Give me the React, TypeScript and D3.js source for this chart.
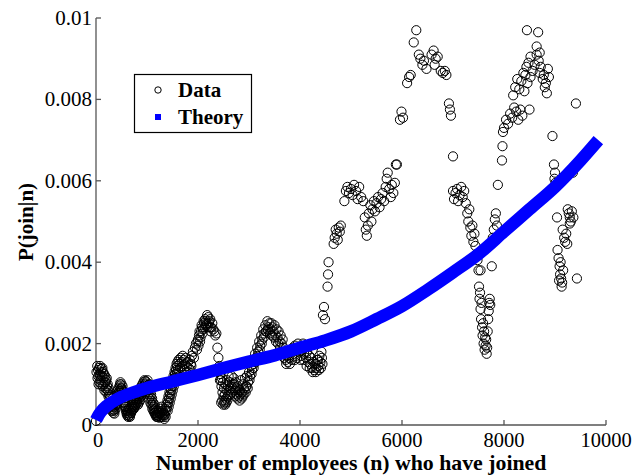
import React from "react";
import * as d3 from "d3";

// ---- data (p values in units of 1e-3) ----
const xTicks = [0, 2000, 4000, 6000, 8000, 10000];
const yTicks = [0, 0.002, 0.004, 0.006, 0.008, 0.01];
const yTickLabels = ["0", "0.002", "0.004", "0.006", "0.008", "0.01"];
const xTickLabels = ["0", "2000", "4000", "6000", "8000", "10000"];

const dataN = [
  0, 30, 40, 50, 60, 70, 80, 90, 100, 110, 120, 130, 140, 150, 160, 170, 180, 190, 200, 210, 220, 230, 240, 250, 260, 270, 280, 290, 300, 310, 320, 330, 340, 350, 360, 370, 380, 390, 400, 410, 420, 430, 440, 450, 460, 470, 480, 490, 500, 510, 520, 530, 540, 550, 560, 570, 580, 590, 600, 610, 620, 630, 640, 650, 660, 670, 680, 690, 700, 710, 720, 730, 740, 750, 760, 770, 780, 790, 800, 810, 820, 830, 840, 850, 860, 870, 880, 890, 900, 910, 920, 930, 940, 950, 960, 970, 980, 990, 1000, 1010, 1020, 1030, 1040, 1050, 1060, 1070, 1080, 1090, 1100, 1110, 1120, 1130, 1140, 1150, 1160, 1170, 1180, 1190, 1200, 1210, 1220, 1230, 1240, 1250, 1260, 1270, 1280, 1290, 1300, 1310, 1320, 1330, 1340, 1350, 1360, 1370, 1380, 1390, 1400, 1410, 1420, 1430, 1440, 1450, 1460, 1470, 1480, 1490, 1500, 1510, 1520, 1530, 1540, 1550, 1560, 1570, 1580, 1590, 1600, 1620, 1640, 1660, 1680, 1700, 1720, 1740, 1760, 1780, 1800, 1820, 1840, 1860, 1880,
  1900, 1920, 1940, 1960, 1980, 2000, 2020, 2040, 2060, 2080, 2100, 2120, 2140, 2160, 2180, 2200, 2220, 2240, 2260, 2280, 2300, 2320, 2340, 2360, 2380, 2400, 2420, 2440, 2450, 2460, 2470, 2480, 2490, 2500, 2510, 2520, 2530, 2540, 2550, 2560, 2570, 2580, 2590, 2600, 2620, 2640, 2660, 2680, 2700, 2720, 2740, 2760, 2780, 2800, 2820, 2840, 2860, 2880, 2900, 2920, 2940, 2960, 2980, 3000, 3020, 3040, 3060, 3080, 3100, 3120, 3140, 3160, 3180, 3200, 3220, 3240, 3260, 3280, 3300, 3320, 3340, 3360, 3380, 3400, 3420, 3440, 3460, 3480, 3500, 3520, 3540, 3560, 3580, 3600, 3620, 3640, 3660, 3680, 3700, 3720, 3740, 3760, 3780, 3800, 3820, 3840, 3860, 3880, 3900, 3920, 3940, 3960, 3980, 4000, 4020, 4040, 4060, 4080, 4100, 4120, 4140, 4160, 4180, 4200, 4220, 4240, 4260, 4280, 4300, 4320, 4340, 4360, 4380, 4400, 4420, 4440,
  4450, 4470, 4490, 4540, 4550, 4560, 4660, 4680, 4700, 4720, 4740, 4760, 4780, 4800, 4870, 4900, 4930, 4960, 5000, 5030, 5060, 5100, 5130, 5160, 5200, 5240, 5270, 5290, 5310, 5330, 5350, 5380, 5400, 5420, 5450, 5470, 5500, 5530, 5560, 5590, 5620, 5650, 5680, 5700, 5720, 5750, 5780, 5800, 5830, 5860, 5880,
  5900, 5960, 5990, 6020, 6100, 6140, 6170, 6230, 6280, 6330, 6360, 6400, 6430, 6480, 6580, 6620, 6660, 6700, 6640, 6760, 6800, 6840, 6870, 6920, 6940, 6960, 7000,
  7000, 7020, 7050, 7080, 7100, 7130, 7160, 7190, 7220, 7250, 7280, 7300, 7320, 7340, 7360, 7380, 7400, 7420, 7440, 7460, 7480, 7500, 7510, 7520, 7530, 7540, 7550, 7560, 7570, 7580, 7590, 7600, 7610, 7620, 7630, 7640, 7650, 7660, 7670, 7680, 7690, 7700, 7710, 7720, 7730, 7760, 7540, 7780, 7800, 7820, 7840, 7860, 7880,
  7960, 7970, 7980, 8000, 8040, 8080, 8120, 8160, 8200, 8240, 8280, 8320, 8360, 8180, 8220, 8260, 8300, 8340, 8380, 8420, 8460, 8500, 8520, 8400, 8440, 8480, 8520, 8560, 8600, 8640, 8680, 8700, 8720, 8760, 8780, 8800, 8820, 8840, 8450, 8670, 8640, 8700, 8860, 8880,
  8950, 8980, 9000, 9010, 8990, 9040, 9350, 9410, 9250, 9270, 9290, 9310, 9330, 9360, 9290, 9150, 9180, 9200, 9220, 9240, 9050, 9070, 9090, 9100, 9120, 9140, 9110, 9160, 9130, 9080, 9430,
  10, 25, 45, 65, 85, 105, 125, 145, 165, 185, 205, 225, 245, 265, 285, 305, 325, 345, 365, 385, 405, 425, 445, 465, 485, 505, 525, 545, 565, 585, 605, 625, 645, 665, 685, 705, 725, 745, 765, 785, 805, 825, 845, 865, 885, 905, 925, 945, 965, 985, 1005, 1025, 1045, 1065, 1085, 1105, 1125, 1145, 1165, 1185, 1205, 1245, 1285, 1325, 1365, 1405, 1425, 1445, 1465, 1485, 1505, 1525, 1545, 1565, 1585, 1610, 1650, 1690, 1730, 1770, 1810, 1850, 1870,
  1990, 2010, 2030, 2050, 2070, 2090, 2110, 2130, 2150, 2170, 2190, 2210, 2230, 2250,
  2430, 2455, 2475, 2495, 2515, 2535, 2555, 2575, 2595, 2615, 2635, 2655, 2675, 2695, 2715, 2735, 2755, 2775, 2795, 2815, 2835, 2855, 2875, 2895, 2915, 2935, 2955, 2975, 3010, 3050, 3090, 3130, 3170, 3210, 3250, 3290, 3330, 3370, 3410, 3450, 3490, 3530, 3570, 3610, 3650, 3690, 3730, 3900, 3950, 4010, 4070, 4130, 4190, 4250, 4310, 4370, 4410, 4430, 4350,
];

const dataP = [
  0.1, 1.15, 1.35, 1.0, 1.4, 1.25, 1.45, 1.1, 1.3, 1.38, 1.2, 0.95, 1.3, 1.15, 1.25, 1.05, 1.2, 0.9, 1.1, 1.15, 0.95, 1.0, 0.85, 0.9, 0.75, 0.65, 0.7, 0.55, 0.5, 0.45, 0.4, 0.35, 0.3, 0.38, 0.28, 0.45, 0.55, 0.5, 0.65, 0.75, 0.7, 0.85, 0.9, 0.8, 0.95, 1.0, 1.05, 0.9, 1.0, 0.85, 0.95, 0.75, 0.8, 0.65, 0.55, 0.6, 0.45, 0.4, 0.3, 0.35, 0.25, 0.2, 0.3, 0.22, 0.35, 0.25, 0.4, 0.3, 0.5, 0.45, 0.55, 0.4, 0.6, 0.5, 0.65, 0.55, 0.7, 0.6, 0.75, 0.65, 0.8, 0.7, 0.55, 0.85, 0.75, 0.9, 0.8, 0.95, 0.85, 1.0, 0.9, 1.05, 0.95, 1.1, 1.0, 1.08, 0.9, 1.05, 0.95, 1.1, 0.98, 0.85, 1.0, 0.8, 0.9, 0.7, 0.75, 0.6, 0.65, 0.5, 0.55, 0.45, 0.38, 0.5, 0.3, 0.4, 0.25, 0.35, 0.2, 0.3, 0.22, 0.35, 0.18, 0.28, 0.2, 0.4, 0.3, 0.45, 0.25, 0.35, 0.2, 0.3, 0.15, 0.25, 0.4, 0.35, 0.5, 0.45, 0.6, 0.55, 0.7, 0.65, 0.8, 0.75, 0.9, 0.85, 1.0, 0.95, 1.1, 1.05, 1.2, 1.15, 1.3, 1.25, 1.4, 1.35, 1.5, 1.45, 1.55, 1.6, 1.5, 1.65, 1.55, 1.7, 1.6, 1.5, 1.65, 1.45, 1.55, 1.4, 1.6, 1.5, 1.7,
  1.8, 1.65, 1.9, 2.0, 1.85, 2.1, 2.2, 2.05, 2.3, 2.4, 2.35, 2.5, 2.6, 2.45, 2.7, 2.65, 2.55, 2.6, 2.4, 2.5, 2.35, 2.3, 2.2, 2.25, 1.9, 1.65, 1.45, 1.25, 1.1, 0.95, 1.15, 0.8, 1.05, 0.7, 0.9, 0.6, 0.75, 1.0, 0.65, 0.85, 1.1, 0.7, 0.95, 1.2, 1.05, 0.9, 1.2, 1.0, 1.15, 0.85, 1.05, 0.75, 0.95, 0.7, 0.85, 1.1, 0.8, 1.0, 0.9, 1.15, 0.95, 1.2, 1.05, 1.3, 1.2, 1.45, 1.35, 1.6, 1.5, 1.75, 1.65, 1.9, 1.8, 2.05, 1.95, 2.2, 2.1, 2.35, 2.25, 2.45, 2.3, 2.55, 2.4, 2.5, 2.35, 2.5, 2.4, 2.3, 2.45, 2.2, 2.35, 2.15, 2.3, 2.05, 2.2, 2.0, 2.1, 1.9, 1.75, 1.6, 1.7, 1.55, 1.65, 1.5, 1.8, 1.6, 1.9, 1.75, 1.95, 1.7, 1.85, 2.0, 1.8, 1.9, 1.7, 1.85, 2.0, 1.75, 1.9, 1.65, 1.8, 1.55, 1.7, 1.5, 1.65, 1.4, 1.55, 1.35, 1.5, 1.4, 1.6, 1.45, 1.7, 1.55, 1.8, 1.5,
  2.7, 2.9, 2.6, 3.4, 3.7, 4.0, 4.45, 4.6, 4.8, 4.7, 4.55, 4.85, 4.75, 4.9, 5.5, 5.75, 5.85, 5.7, 5.8, 5.65, 5.9, 5.75, 5.55, 5.85, 5.6, 5.5, 5.1, 4.8, 4.65, 4.9, 5.2, 5.4, 5.0, 5.3, 5.5, 5.25, 5.45, 5.6, 5.35, 5.55, 5.7, 5.5, 5.85, 6.05, 6.2, 5.8, 5.6, 5.9, 5.7, 5.95, 6.4,
  6.4, 7.5, 7.7, 7.55, 8.4, 8.55, 8.6, 9.4, 9.7, 9.1, 9.0, 8.85, 8.95, 8.75, 9.1, 9.2, 9.0, 9.05, 8.85, 8.7, 8.65, 8.7, 8.6, 7.9, 7.75, 7.6, 6.6,
  5.75, 5.55, 5.7, 5.8, 5.5, 5.65, 5.85, 5.6, 5.75, 5.45, 5.2, 5.0, 5.3, 4.85, 4.65, 4.9, 4.5, 4.7, 4.4, 4.2, 4.05, 3.8, 3.4, 3.1, 3.25, 2.85, 2.6, 3.0, 2.4, 2.2, 2.5, 2.0, 2.3, 1.85, 2.15, 1.95, 2.1, 1.75, 1.9, 2.3, 2.6, 2.8, 3.0, 3.1, 2.95, 3.9, 3.8, 4.6, 4.8, 5.05, 5.2, 4.9, 5.9,
  6.5, 6.85, 7.2, 7.3, 7.5, 7.4, 7.65, 7.55, 7.8, 7.7, 7.5, 7.75, 7.6, 8.1, 8.3, 8.5, 8.25, 8.45, 8.65, 8.6, 8.4, 7.75, 8.55, 8.2, 8.8, 8.9, 9.05, 8.7, 8.85, 9.1, 8.95, 8.65, 8.8, 8.5, 8.6, 8.3, 8.4, 8.15, 9.7, 9.65, 9.3, 9.15, 8.75, 8.55,
  7.1, 6.4, 6.2, 5.95, 6.05, 5.1, 6.2, 7.9, 5.3, 5.2, 5.1, 5.0, 5.25, 5.1, 4.95, 4.8, 4.6, 4.5, 4.7, 4.45, 4.3, 4.1, 3.9, 3.7, 3.6, 3.5, 4.0, 3.8, 3.4, 3.55, 3.6,
  1.3, 1.45, 1.2, 1.05, 1.2, 1.0, 1.4, 1.0, 0.85, 1.05, 0.8, 0.85, 0.7, 0.55, 0.45, 0.35, 0.5, 0.45, 0.35, 0.4, 0.5, 0.6, 0.75, 0.85, 0.8, 0.9, 0.7, 0.55, 0.45, 0.35, 0.25, 0.35, 0.4, 0.2, 0.3, 0.35, 0.45, 0.4, 0.45, 0.5, 0.55, 0.5, 0.65, 0.6, 0.7, 0.75, 0.8, 0.85, 0.9, 0.8, 0.85, 0.75, 0.65, 0.55, 0.5, 0.4, 0.35, 0.3, 0.25, 0.2, 0.25, 0.3, 0.2, 0.25, 0.2, 0.35, 0.45, 0.55, 0.65, 0.75, 0.85, 0.95, 1.05, 1.15, 1.25, 1.35, 1.4, 1.45, 1.35, 1.3, 1.3, 1.35, 1.45,
  2.05, 1.95, 2.3, 2.15, 2.45, 2.25, 2.55, 2.4, 2.55, 2.5, 2.4, 2.5, 2.4, 2.3,
  1.1, 0.55, 0.6, 0.5, 0.55, 0.5, 0.55, 0.6, 0.75, 0.85, 0.75, 0.95, 0.8, 0.9, 1.0, 0.7, 0.9, 0.65, 0.8, 0.6, 0.75, 0.65, 0.7, 0.75, 0.85, 0.8, 0.95, 0.9, 1.1, 1.25, 1.4, 1.55, 1.7, 1.85, 2.0, 2.15, 2.3, 2.35, 2.25, 2.2, 2.15, 2.05, 2.0, 1.9, 1.8, 1.65, 1.5, 1.6, 1.65, 1.6, 1.6, 1.45, 1.4, 1.3, 1.3, 1.35, 1.4, 1.65, 1.6,
];

const theoryN = [0, 50, 100, 200, 300, 500, 750, 1000, 1500, 2000, 2500, 3000, 3500, 4000, 4500, 5000, 5500, 6000, 6500, 7000, 7500, 8000, 8500, 9000, 9500, 9850];
const theoryP = [0.12, 0.24, 0.33, 0.46, 0.55, 0.69, 0.81, 0.91, 1.07, 1.23, 1.4, 1.56, 1.71, 1.9, 2.08, 2.3, 2.6, 2.92, 3.32, 3.75, 4.2, 4.75, 5.3, 5.85, 6.5, 7.0];

const legendItems = ["Data", "Theory"];

const W = 641;
const H = 475;
const FONT = "Liberation Serif, Times New Roman, Times, serif";

export default function App() {
  const x = d3.scaleLinear().domain([0, 10000]).range([96, 606]);
  const y = d3.scaleLinear().domain([0, 0.01]).range([425, 18]);

  const points = dataN.map((n, i) => ({ n, p: dataP[i] / 1000 }));
  const theory = theoryN.map((n, i) => ({ n, p: theoryP[i] / 1000 }));
  const line = d3
    .line<{ n: number; p: number }>()
    .x((d) => x(d.n))
    .y((d) => y(d.p))
    .curve(d3.curveMonotoneX);

  const axisColor = "#555";
  const [x0, x1] = x.range();
  const [yb, yt] = y.range();
  const tStyle = { fontFamily: FONT };

  return (
    <svg
      width={W}
      height={H}
      style={{ position: "absolute", left: 0, top: 0, background: "#fff" }}
    >
      <rect x={0} y={0} width={W} height={H} fill="#fff" />
      {/* axes */}
      <line x1={x0} x2={x0} y1={yb} y2={yt} stroke={axisColor} strokeWidth={1.3} />
      <line x1={x0} x2={x1} y1={yb} y2={yb} stroke={axisColor} strokeWidth={1.3} />
      {xTicks.map((t, i) => (
        <g key={"xt" + i}>
          <line x1={x(t)} x2={x(t)} y1={yb} y2={yb - 5} stroke={axisColor} strokeWidth={1.3} />
          <text x={x(t) + (i === 0 ? 2 : 0)} y={447} textAnchor="middle" fontSize={20.5} fill="#000" style={tStyle}>
            {xTickLabels[i]}
          </text>
        </g>
      ))}
      {yTicks.map((t, i) => (
        <g key={"yt" + i}>
          <line x1={x0} x2={x0 + 5} y1={y(t)} y2={y(t)} stroke={axisColor} strokeWidth={1.3} />
          <text x={92} y={y(t) + 7} textAnchor="end" fontSize={21} fill="#000" style={tStyle}>
            {yTickLabels[i]}
          </text>
        </g>
      ))}

      {/* data circles */}
      {points.map((d, i) => (
        <circle key={"c" + i} cx={x(d.n)} cy={y(d.p)} r={4.6} fill="none" stroke="#000" strokeWidth={1} />
      ))}

      {/* theory */}
      <path d={line(theory) || ""} fill="none" stroke="#0000ff" strokeWidth={12.5} strokeLinecap="butt" />

      {/* axis labels */}
      <text x={351} y={470} textAnchor="middle" fontSize={21.8} fontWeight="bold" fill="#000" style={tStyle}>
        Number of employees (n) who have joined
      </text>
      <text
        transform={`translate(33, 222) rotate(-90)`}
        textAnchor="middle"
        fontSize={21}
        fontWeight="bold"
        fill="#000"
        style={tStyle}
      >
        P(join|n)
      </text>

      {/* legend */}
      <rect x={134.5} y={74.5} width={117} height={58} fill="#fff" stroke="#000" strokeWidth={1.2} />
      <circle cx={158} cy={90} r={3.2} fill="none" stroke="#000" strokeWidth={1} />
      <rect x={155} y={114} width={6} height={6} fill="#0000ff" />
      <text x={178} y={97} fontSize={21} fontWeight="bold" fill="#000" style={tStyle}>
        {legendItems[0]}
      </text>
      <text x={178} y={124} fontSize={21} fontWeight="bold" fill="#000" style={tStyle}>
        {legendItems[1]}
      </text>
    </svg>
  );
}
